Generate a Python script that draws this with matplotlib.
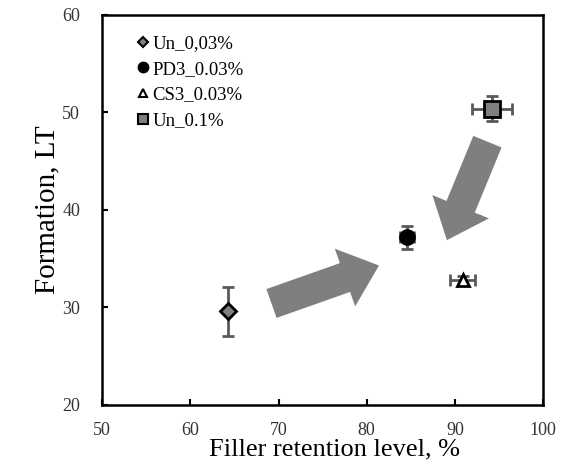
import matplotlib
matplotlib.use("Agg")
import matplotlib.pyplot as plt
from matplotlib.lines import Line2D

plt.rcParams['font.family'] = ['Liberation Serif', 'DejaVu Serif']

# data
labels = ['Un_0,03%', 'PD3_0.03%', 'CS3_0.03%', 'Un_0.1%']
retention = [64.3, 84.6, 90.9, 94.2]
formation = [29.6, 37.2, 32.8, 50.4]
x_err = [0.0, 0.8, 1.4, 2.3]
y_err = [2.5, 1.2, 0.4, 1.3]
markers = ['D', 'o', '^', 's']
faces = ['#808080', 'black', 'white', '#808080']
sizes = [8, 10, 8, 11]

# block arrows (tail -> tip), data coords
arrows = [((69.2, 30.4), (81.4, 34.3)),
          ((93.7, 47.0), (89.1, 36.9))]

fig = plt.figure(figsize=(5.65, 4.67), dpi=100)
ax = fig.add_axes([0.181, 0.133, 0.78, 0.835])

for (x0, y0), (x1, y1) in arrows:
    ax.annotate('', xy=(x1, y1), xytext=(x0, y0),
                arrowprops=dict(arrowstyle='simple,head_width=2.2,head_length=1.3,tail_width=1.1',
                                color='#7f7f7f', mutation_scale=20, shrinkA=0, shrinkB=0, lw=0))

for i in range(4):
    ax.errorbar(retention[i], formation[i],
                xerr=x_err[i] if x_err[i] > 0 else None, yerr=y_err[i],
                fmt='none', ecolor='#595959', elinewidth=2, capsize=4, capthick=2, zorder=3)
    ax.plot(retention[i], formation[i], marker=markers[i], ms=sizes[i], mfc=faces[i],
            mec='black', mew=2, ls='none', zorder=4)

ax.set_xlim(50, 100)
ax.set_ylim(20, 60)
ax.set_xticks(range(50, 101, 10))
ax.set_yticks(range(20, 61, 10))
ax.tick_params(direction='in', length=4, width=1.5, labelsize=13, colors='black',
               labelcolor='#333333')
ax.tick_params(axis='x', pad=12)
ax.tick_params(axis='y', pad=16)
for s in ax.spines.values():
    s.set_linewidth(1.8)
ax.set_xlabel('Filler retention level, %', fontsize=19, labelpad=2)
ax.xaxis.set_label_coords(0.528, -0.085)
ax.set_ylabel('Formation, LT', fontsize=21, labelpad=1)

handles = [Line2D([], [], marker=markers[i], ms=[5, 7, 6, 7][i], mfc=faces[i], mec='black',
                  mew=1.5, ls='none') for i in range(4)]
ax.legend(handles, labels, loc='upper left', frameon=False, fontsize=13.5, handletextpad=0.1,
          handlelength=0.8, labelspacing=0.45, borderaxespad=0,
          bbox_to_anchor=(0.058, 0.967))

fig.savefig('out.png', dpi=100)
